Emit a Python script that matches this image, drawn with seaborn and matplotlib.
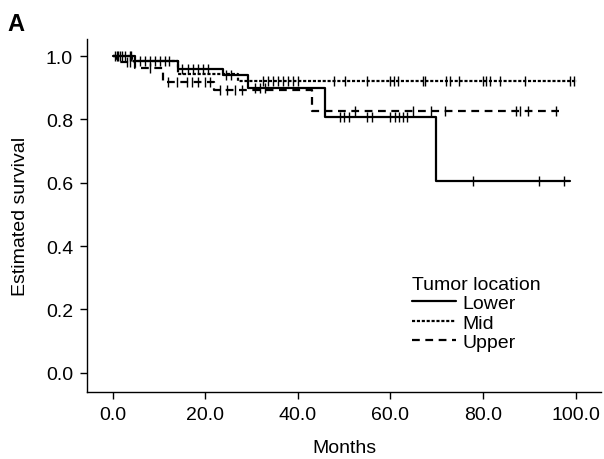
import numpy as np
import pandas as pd
import matplotlib.pyplot as plt
import seaborn as sns
from matplotlib.ticker import FormatStrFormatter

# step points (months, survival) for each tumour location, last point = end of follow-up
lower_months = [0, 4.7, 14.0, 23.8, 29.2, 45.9, 69.8, 98.7]
lower_surv = [1.0, 0.985, 0.96, 0.94, 0.898, 0.807, 0.606, 0.606]
mid_months = [0, 4.2, 14.0, 27.0, 100.4]
mid_surv = [1.0, 0.985, 0.945, 0.92, 0.92]
upper_months = [0, 0.8, 4.7, 10.9, 21.8, 43.1, 96.5]
upper_surv = [1.0, 0.98, 0.961, 0.919, 0.894, 0.828, 0.828]

# censored observations (months)
lower_censor = [0.4, 1.1, 1.9, 5.8, 6.9, 8.0, 9.1, 10.2, 11.2, 12.2, 15.0, 16.2, 17.3,
                18.4, 19.4, 20.5, 24.5, 25.5, 30.7, 31.7, 32.8, 49.0, 50.0, 51.0, 55.0,
                55.9, 60.0, 60.9, 61.8, 62.7, 63.6, 77.8, 92.1, 97.6]
mid_censor = [0.8, 1.5, 2.6, 3.6, 4.0, 32.5, 33.5, 34.6, 35.7, 36.8, 37.8, 38.9, 40.0,
              47.9, 50.1, 54.9, 59.8, 60.7, 61.6, 67.0, 67.4, 72.0, 72.8, 74.9, 80.0,
              80.7, 81.6, 83.6, 89.0, 98.7, 99.6]
upper_censor = [3.0, 3.8, 8.0, 11.9, 13.8, 16.0, 17.0, 18.4, 19.9, 21.0, 23.1, 24.6,
                26.3, 27.8, 52.3, 64.8, 68.8, 71.7, 87.2, 87.9, 89.7, 95.8]

groups = ['Lower', 'Mid', 'Upper']
steps = {'Lower': (lower_months, lower_surv),
         'Mid': (mid_months, mid_surv),
         'Upper': (upper_months, upper_surv)}
censors = {'Lower': lower_censor, 'Mid': mid_censor, 'Upper': upper_censor}

rows = []
for g in groups:
    for m, s in zip(*steps[g]):
        rows.append((g, m, s))
df = pd.DataFrame(rows, columns=['location', 'months', 'survival'])

# censor marks sit on the curve of their group
crows = []
for g in groups:
    t, s = steps[g]
    for c in censors[g]:
        idx = np.searchsorted(t, c, side='right') - 1
        crows.append((g, c, s[idx]))
cdf = pd.DataFrame(crows, columns=['location', 'months', 'survival'])

sns.set_style('ticks')
plt.rcParams['font.family'] = ['Liberation Sans', 'DejaVu Sans']
plt.rcParams['font.size'] = 14
plt.rcParams['text.color'] = 'black'
plt.rcParams['axes.labelcolor'] = 'black'
plt.rcParams['xtick.color'] = 'black'
plt.rcParams['ytick.color'] = 'black'

fig = plt.figure(figsize=(6.04, 4.60), dpi=100)
ax = fig.add_axes([0.144, 0.146, 0.851, 0.767])

sns.lineplot(data=df, x='months', y='survival', hue='location', style='location',
             hue_order=groups, style_order=groups,
             palette={'Lower': 'black', 'Mid': 'black', 'Upper': 'black'},
             dashes={'Lower': '', 'Mid': (1.4, 0.8), 'Upper': (3.5, 2.5)},
             drawstyle='steps-post', estimator=None, sort=False, linewidth=1.6, ax=ax)

ax.plot(cdf['months'], cdf['survival'], linestyle='none', marker='|',
        markersize=6.5, markeredgewidth=1.0, color='black')

ax.set_xlim(-5.6, 105.5)
ax.set_ylim(-0.06, 1.054)
ax.set_xticks([0, 20, 40, 60, 80, 100])
ax.set_yticks([0, 0.2, 0.4, 0.6, 0.8, 1.0])
ax.xaxis.set_major_formatter(FormatStrFormatter('%.1f'))
ax.yaxis.set_major_formatter(FormatStrFormatter('%.1f'))
ax.tick_params(axis='both', labelsize=14, length=5, width=1, pad=5, color='black',
               labelcolor='black')
for side in ['top', 'right']:
    ax.spines[side].set_visible(False)
for side in ['left', 'bottom']:
    ax.spines[side].set_color('black')
    ax.spines[side].set_linewidth(1)

ax.set_xlabel('Months', fontsize=14, labelpad=12)
ax.set_ylabel('Estimated survival', fontsize=14, labelpad=12)

handles, labels = ax.get_legend_handles_labels()
leg = ax.legend(handles[-3:], labels[-3:], title='Tumor location', loc='upper left',
                bbox_to_anchor=(0.605, 0.368), frameon=False, fontsize=14,
                title_fontsize=14, alignment='left', handlelength=2.3,
                handletextpad=0.3, labelspacing=0.1, borderpad=0.2)

fig.text(0.012, 0.933, 'A', fontsize=17, fontweight='bold')

fig.savefig('out.png', dpi=100)
